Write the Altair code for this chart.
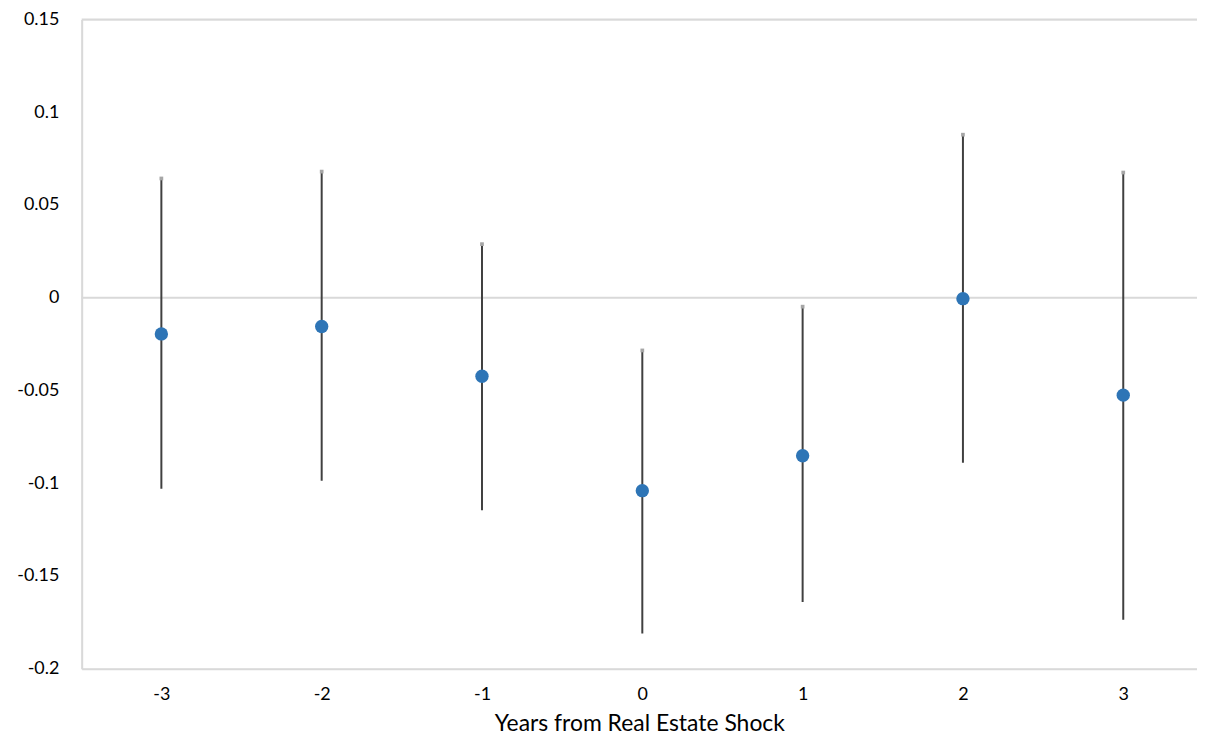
import altair as alt
import pandas as pd

years = [-3, -2, -1, 0, 1, 2, 3]
estimate = [-0.0195, -0.0155, -0.0423, -0.104, -0.0852, -0.0005, -0.0525]
upper = [0.0643, 0.068, 0.0289, -0.0284, -0.0048, 0.0879, 0.0675]
lower = [-0.1029, -0.0986, -0.1146, -0.181, -0.164, -0.089, -0.1736]
y_ticks = [-0.2, -0.15, -0.1, -0.05, 0, 0.05, 0.1, 0.15]
ref_lines = [0.15, 0]

df = pd.DataFrame({"year": years, "est": estimate, "hi": upper, "lo": lower})
refs = pd.DataFrame({"y": ref_lines})

FONT = "Lato"

x_scale = alt.Scale(domain=[-3.497, 3.46], nice=False, zero=False)
y_scale = alt.Scale(domain=[-0.2, 0.15], nice=False, zero=False)

x_enc = alt.X(
    "year:Q", scale=x_scale,
    axis=alt.Axis(values=years, title="Years from Real Estate Shock", grid=False,
                  ticks=False, domain=True, domainColor="#d9d9d9", domainWidth=2,
                  labelPadding=17, titlePadding=9, labelFontSize=18, titleFontSize=23,
                  labelFont=FONT, titleFont=FONT, labelColor="#000000",
                  titleColor="#000000", titleFontWeight="normal",
                  labelExpr="datum.value + ''"),
)

base = alt.Chart(df)

rules_ref = alt.Chart(refs).mark_rule(color="#d9d9d9", strokeWidth=2).encode(
    y=alt.Y("y:Q", scale=y_scale)
)

bars = base.mark_rule(color="#404040", strokeWidth=2).encode(
    x=x_enc,
    y=alt.Y("lo:Q", scale=y_scale,
            axis=alt.Axis(values=y_ticks, title=None, grid=False, ticks=False,
                          domain=True, domainColor="#d9d9d9", domainWidth=2,
                          labelPadding=23, labelFontSize=18, labelFont=FONT,
                          labelColor="#000000", labelExpr="datum.value + ''")),
    y2="hi:Q",
)

caps = base.mark_square(color="#a6a6a6", size=14, opacity=1).encode(
    x=alt.X("year:Q", scale=x_scale), y=alt.Y("hi:Q", scale=y_scale)
)

points = base.mark_circle(color="#2e75b6", size=180, opacity=1).encode(
    x=alt.X("year:Q", scale=x_scale), y=alt.Y("est:Q", scale=y_scale)
)

chart = alt.layer(rules_ref, bars, caps, points).properties(
    width=1120, height=652,
    autosize=alt.AutoSizeParams(type="none"),
    padding={"left": 74, "top": 10, "right": 0, "bottom": 71},
).configure_view(stroke=None).configure(background="white")

chart.save("out.html", embed_options={"renderer": "svg", "actions": False})
